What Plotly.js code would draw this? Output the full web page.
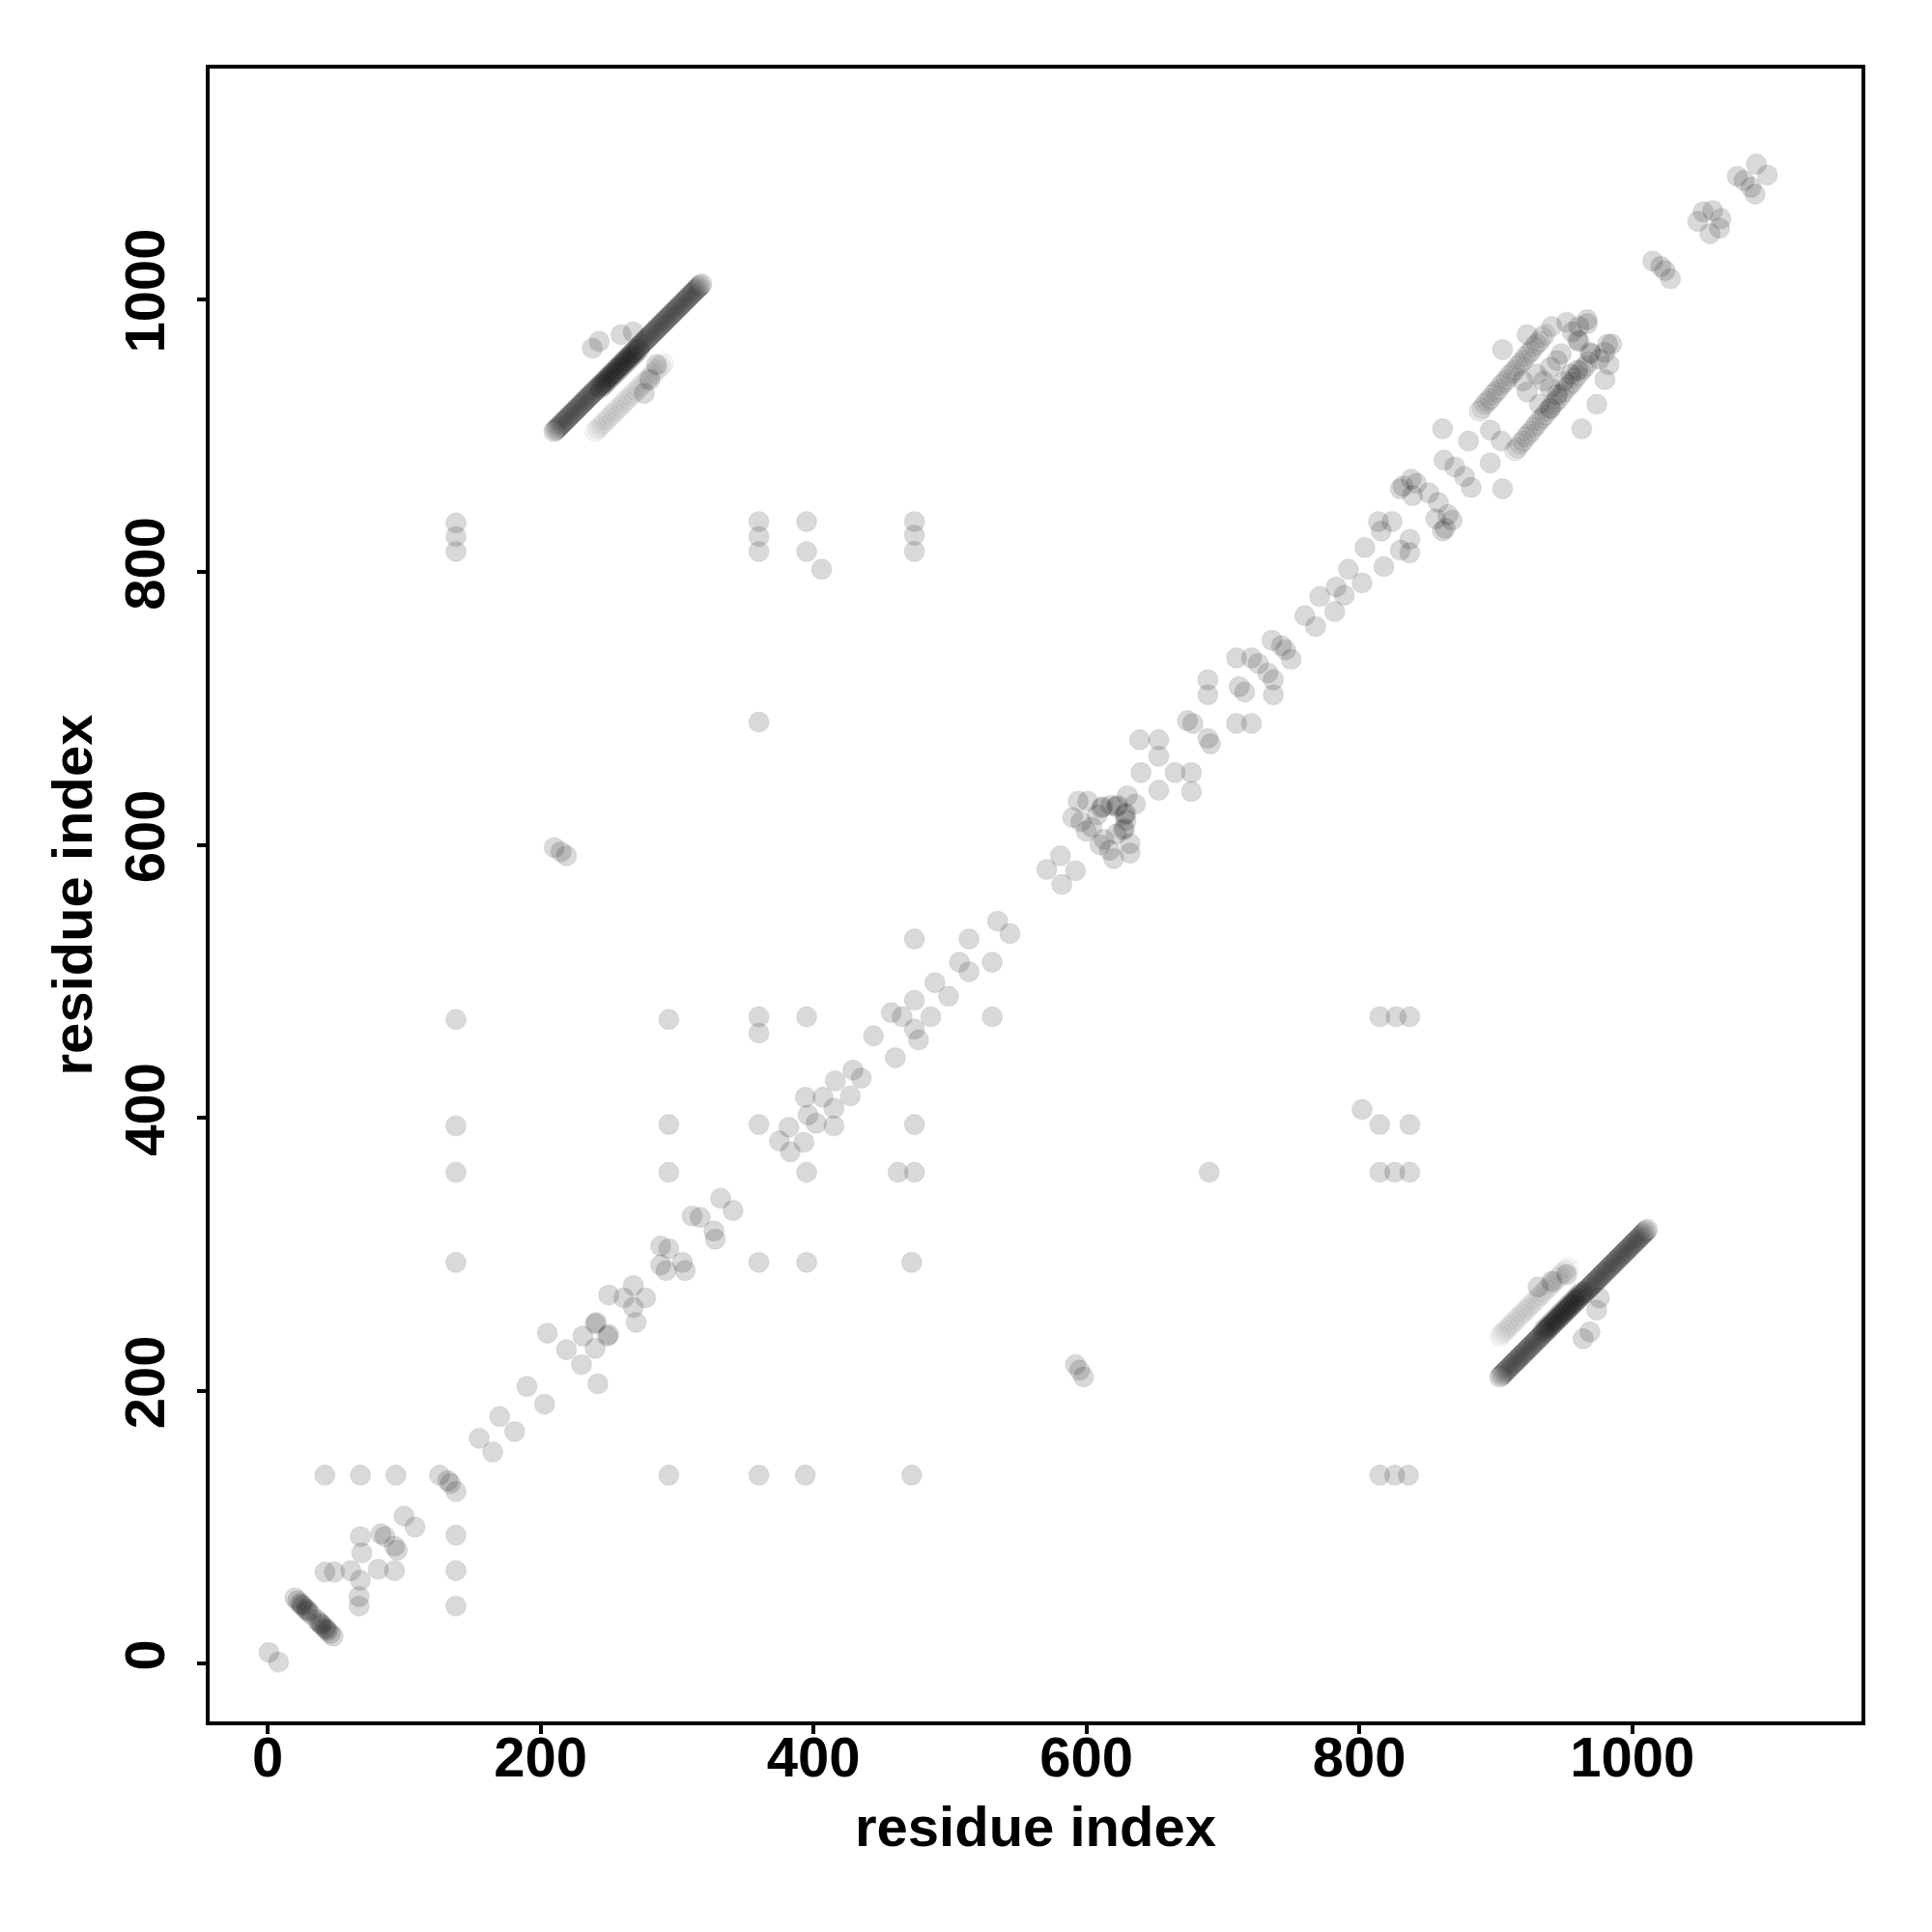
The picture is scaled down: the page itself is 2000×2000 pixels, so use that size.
<!DOCTYPE html>
<html>
<head>
<meta charset="utf-8">
<script src="https://cdn.plot.ly/plotly-3.0.1.min.js"></script>
<style>html,body{margin:0;padding:0;background:#fff;}#plot{width:2000px;height:2000px;}</style>
</head>
<body>
<div id="plot"></div>
<script>
// Contact pairs (residue i < residue j); the map is symmetric
var contactI = [1,20,22,24,26,28,30,32,25,29,42,68,94,126,132,68,69,83,86,100,42,49,61,
  155,170,190,205,219,240,241,231,250,261,268,288,294,288,317,311,332,
  138,138,138,138,138,138,138,294,294,294,360,360,360,360,360,360,360,395,395,395,406,474,474,474,
  210,215,219,375,382,394,407,396,416,429,444,457,465,474,489,507,514,474,535,571,581,
  590,594,601,611,612,618,596,604,600,608,622,623,630,639,653,653,640,678,674,
  689,689,710,721,726,712,736,743,760,771,783,792,804,814,824,816,830,842,851,832,838,839,
  862,870,861,896,880,905,923,941,952,961,967,961,960,956,967,923,930,940,935,945,920,948,
  1015,1021,1048,1052,1059,1077,1082,1091,243,259,268,238,285,280,276];
var contactJ = [8,48,46,44,42,40,38,36,43,39,138,138,138,138,134,93,81,95,93,108,67,67,68,
  165,181,203,242,230,249,250,240,270,268,277,292,304,306,327,328,341,
  294,360,394,472,815,826,836,360,395,472,395,462,474,690,815,826,837,474,815,837,802,815,827,837,
  598,595,592,383,393,415,415,402,427,435,460,477,474,486,499,514,531,531,544,582,592,
  620,632,632,627,628,629,617,613,610,622,628,629,636,677,677,665,653,689,691,
  710,721,737,737,733,716,750,746,768,782,789,802,818,837,837,830,861,865,858,863,868,856,
  882,877,905,904,896,963,974,980,983,980,985,969,970,976,982,932,945,950,940,955,940,960,
  1028,1024,1057,1064,1065,1090,1087,1099,969,974,976,964,952,941,931];

// Long-range band (residues 210-318 against 903-1011)
var bandI = [210,211,212,213,214,215,216,217,218,219,220,221,222,223,224,225,226,227,228,229,
  230,231,232,233,234,235,236,237,238,239,240,241,242,243,244,245,246,247,248,249,
  250,251,252,253,254,255,256,257,258,259,260,261,262,263,264,265,266,267,268,269,
  270,271,272,273,274,275,276,277,278,279,280,281,282,283,284,285,286,287,288,289,
  290,291,292,293,294,295,296,297,298,299,300,301,302,303,304,305,306,307,308,309,
  310,311,312,313,314,315,316,317,318];
var bandJ = [903,904,905,906,907,908,909,910,911,912,913,914,915,916,917,918,919,920,921,922,
  923,924,925,926,927,928,929,930,931,932,933,934,935,936,937,938,939,940,941,942,
  943,944,945,946,947,948,949,950,951,952,953,954,955,956,957,958,959,960,961,962,
  963,964,965,966,967,968,969,970,971,972,973,974,975,976,977,978,979,980,981,982,
  983,984,985,986,987,988,989,990,991,992,993,994,995,996,997,998,999,1000,1001,1002,
  1003,1004,1005,1006,1007,1008,1009,1010,1011];
var band2I = [244,246,248,250,252,254,256,258,260,262,264,266,268,270,272];
var band2J = [935,937,939,941,943,945,947,949,951,953,955,957,959,961,963];
// Faint parallel band
var faintI = [240,242,244,246,248,250,252,254,256,258,260,262,264,266,268,270,272,274,276,278,280,282,284,286,288,290];
var faintJ = [903,905,907,909,911,913,915,917,919,921,923,925,927,929,931,933,935,937,939,941,943,945,947,949,951,953];

// Two streaks near residues 890-970 (as drawn, x then y)
var streakX = [888,890,892,894,896,898,900,902,904,906,908,910,912,914,916,918,920,922,924,926,928,930,932,934,936,
  914,916,918,920,922,924,926,928,930,932,934,936,938,940,942,944,946,948,950,952,954,956,958,960,962,964,966,968];
var streakY = [918,920,923,925,927,930,932,934,937,939,941,944,946,948,951,953,955,958,960,962,965,967,969,972,974,
  889,891,894,896,899,901,903,906,908,911,913,915,918,920,923,925,927,930,932,935,937,939,942,944,947,949,951,954];

var xTicks = [0,200,400,600,800,1000];
var yTicks = [0,200,400,600,800,1000];

function both(a, b) { return a.concat(b); }

function mk(x, y, alpha, lineAlpha) {
  return {
    type: 'scatter', mode: 'markers', x: x, y: y, hoverinfo: 'skip',
    marker: {size: 21, color: 'rgba(0,0,0,' + alpha + ')',
             line: {width: 1.2, color: 'rgba(0,0,0,' + lineAlpha + ')'}}
  };
}

var bI = bandI.concat(band2I), bJ = bandJ.concat(band2J);

var traces = [
  mk(both(faintI, faintJ), both(faintJ, faintI), 0.045, 0.04),
  mk(streakX, streakY, 0.085, 0.08),
  mk(both(contactI, contactJ), both(contactJ, contactI), 0.15, 0.06),
  mk(both(bI, bJ), both(bJ, bI), 0.09, 0.12)
];

var fnt = {family: 'Liberation Sans, Arial, Helvetica, sans-serif', size: 58, color: '#000', weight: 'bold'};

var axisBase = {
  range: [-42.5, 1168], autorange: false,
  showgrid: false, zeroline: false,
  showline: true, mirror: true, linecolor: '#000', linewidth: 4,
  ticks: 'outside', ticklen: 9, tickwidth: 4, tickcolor: '#000',
  tickmode: 'array', tickfont: fnt, automargin: false
};

var layout = {
  width: 2000, height: 2000,
  margin: {l: 217, r: 73, t: 71, b: 218},
  paper_bgcolor: '#fff', plot_bgcolor: '#fff',
  showlegend: false,
  xaxis: Object.assign({}, axisBase, {
    tickvals: xTicks, ticktext: xTicks.map(String), ticklabelstandoff: -26,
    title: {text: 'residue index', font: fnt, standoff: 22}
  }),
  yaxis: Object.assign({}, axisBase, {
    range: [-42.5, 1169],
    tickvals: yTicks, ticktext: yTicks.map(String), tickangle: -90, ticklabelstandoff: 11,
    title: {text: 'residue index', font: fnt, standoff: 3}
  })
};

Plotly.newPlot('plot', traces, layout, {staticPlot: true, displayModeBar: false});
</script>
</body>
</html>
